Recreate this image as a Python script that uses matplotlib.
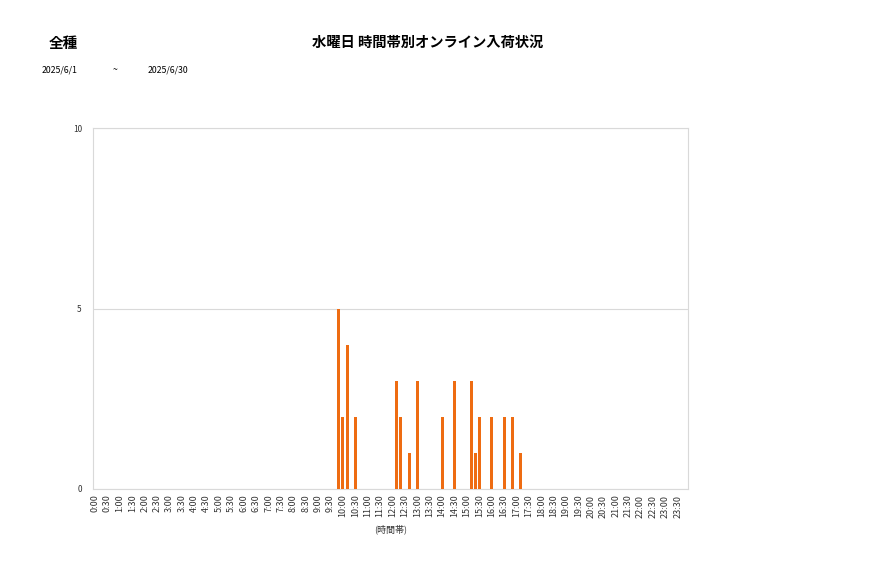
import matplotlib
matplotlib.use("Agg")
import matplotlib.pyplot as plt
import numpy as np

plt.rcParams['font.family'] = ['Noto Sans CJK JP', 'DejaVu Sans']

# 10-minute slots, 0:00 .. 23:50
slots = [f"{h}:{m:02d}" for h in range(24) for m in range(0, 60, 10)]
tick_labels = [f"{h}:{m:02d}" for h in range(24) for m in (0, 30)]

# slot -> count
hit_slots = ["9:50", "10:00", "10:10", "10:30", "12:10", "12:20", "12:40", "13:00",
             "14:00", "14:30", "15:10", "15:20", "15:30", "16:00", "16:30", "16:50", "17:10"]
hit_counts = [5, 2, 4, 2, 3, 2, 1, 3, 2, 3, 3, 1, 2, 2, 2, 2, 1]

counts = np.zeros(len(slots))
for s, c in zip(hit_slots, hit_counts):
    counts[slots.index(s)] = c

fig = plt.figure(figsize=(8.77, 5.78), dpi=100)
ax = fig.add_axes([93/877, 1 - 489/578, 595/877, 361/578])

x = np.arange(len(slots))
ax.bar(x, counts, width=0.72, color='#EE6C12', zorder=3)

ax.set_xlim(-0.5, len(slots) - 0.5)
ax.set_ylim(0, 10)
ax.set_yticks([0, 5, 10])
ax.set_yticklabels(['0', '5', '10'], fontsize=6, color='#333333')
ax.set_xticks([slots.index(t) for t in tick_labels])
ax.set_xticklabels(tick_labels, rotation=90, fontsize=6.5, color='#333333')
ax.tick_params(length=0, pad=4)
ax.tick_params(axis='y', pad=8)
ax.grid(axis='y', color='#d9d9d9', linewidth=0.8, zorder=0)
for sp in ax.spines.values():
    sp.set_color('#d9d9d9')
    sp.set_linewidth(0.8)
ax.set_xlabel('(時間帯)', fontsize=6.5, color='#333333', labelpad=5)

fig.text(63/877, 1 - 43/578, '全種', fontsize=10.5, fontweight='bold', ha='center', va='center')
fig.text(428/877, 1 - 43/578, '水曜日 時間帯別オンライン入荷状況', fontsize=10.3,
         fontweight='bold', ha='center', va='center')
fig.text(42/877, 1 - 70/578, '2025/6/1', fontsize=6.3, ha='left', va='center')
fig.text(115/877, 1 - 70/578, '~', fontsize=6.3, ha='center', va='center')
fig.text(148/877, 1 - 70/578, '2025/6/30', fontsize=6.3, ha='left', va='center')

fig.savefig('out.png', dpi=100)
